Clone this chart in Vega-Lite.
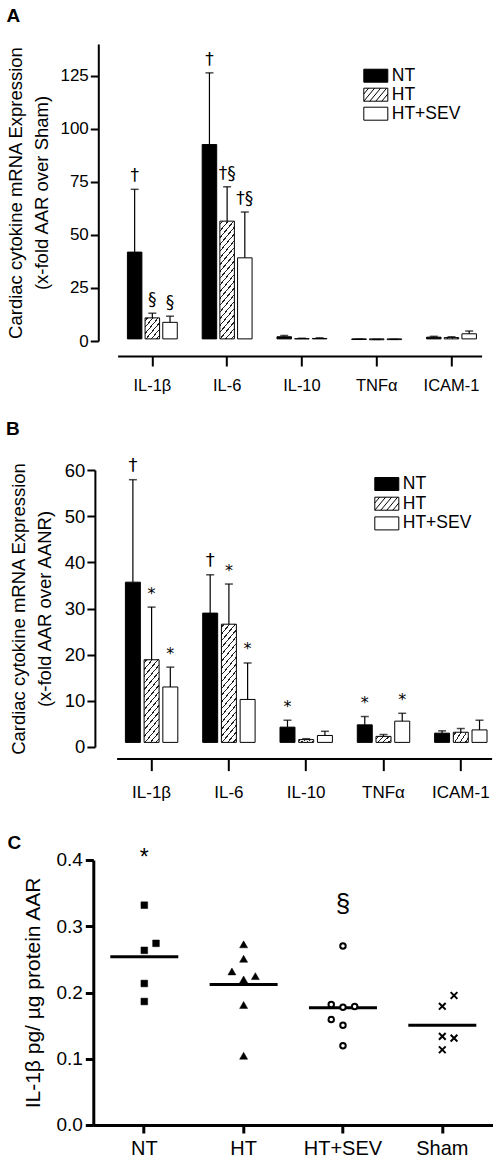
{
"$schema": "https://vega.github.io/schema/vega-lite/v6.json",
"padding": {"left": 5.3, "top": 7, "right": 0, "bottom": 0},
"datasets": {
"barsA": [
{"cytokine":"IL-1β","group":"NT","mean":41.9,"upper":71.5,"sig":"†"},
{"cytokine":"IL-1β","group":"HT","mean":10.9,"upper":13.1,"sig":"§"},
{"cytokine":"IL-1β","group":"HT+SEV","mean":8.8,"upper":11.7,"sig":"§"},
{"cytokine":"IL-6","group":"NT","mean":92.6,"upper":126.4,"sig":"†"},
{"cytokine":"IL-6","group":"HT","mean":56.5,"upper":72.7,"sig":"†§"},
{"cytokine":"IL-6","group":"HT+SEV","mean":39.2,"upper":60.8,"sig":"†§"},
{"cytokine":"IL-10","group":"NT","mean":2.0,"upper":2.6,"sig":""},
{"cytokine":"IL-10","group":"HT","mean":1.1,"upper":1.3,"sig":""},
{"cytokine":"IL-10","group":"HT+SEV","mean":1.2,"upper":1.5,"sig":""},
{"cytokine":"TNFα","group":"NT","mean":0.7,"upper":0.85,"sig":""},
{"cytokine":"TNFα","group":"HT","mean":0.6,"upper":0.75,"sig":""},
{"cytokine":"TNFα","group":"HT+SEV","mean":0.65,"upper":0.8,"sig":""},
{"cytokine":"ICAM-1","group":"NT","mean":1.8,"upper":2.2,"sig":""},
{"cytokine":"ICAM-1","group":"HT","mean":1.6,"upper":2.0,"sig":""},
{"cytokine":"ICAM-1","group":"HT+SEV","mean":3.4,"upper":4.7,"sig":""}
],
"barsB": [
{"cytokine":"IL-1β","group":"NT","mean":35.7,"upper":57.9,"sig":"†"},
{"cytokine":"IL-1β","group":"HT","mean":18.9,"upper":30.3,"sig":"*"},
{"cytokine":"IL-1β","group":"HT+SEV","mean":13.0,"upper":17.3,"sig":"*"},
{"cytokine":"IL-6","group":"NT","mean":29.0,"upper":37.3,"sig":"†"},
{"cytokine":"IL-6","group":"HT","mean":26.6,"upper":35.3,"sig":"*"},
{"cytokine":"IL-6","group":"HT+SEV","mean":10.3,"upper":18.2,"sig":"*"},
{"cytokine":"IL-10","group":"NT","mean":4.3,"upper":5.8,"sig":"*"},
{"cytokine":"IL-10","group":"HT","mean":1.6,"upper":1.8,"sig":""},
{"cytokine":"IL-10","group":"HT+SEV","mean":2.5,"upper":3.4,"sig":""},
{"cytokine":"TNFα","group":"NT","mean":4.8,"upper":6.6,"sig":"*"},
{"cytokine":"TNFα","group":"HT","mean":2.3,"upper":2.7,"sig":""},
{"cytokine":"TNFα","group":"HT+SEV","mean":5.6,"upper":7.3,"sig":"*"},
{"cytokine":"ICAM-1","group":"NT","mean":3.0,"upper":3.5,"sig":""},
{"cytokine":"ICAM-1","group":"HT","mean":3.2,"upper":4.0,"sig":""},
{"cytokine":"ICAM-1","group":"HT+SEV","mean":3.7,"upper":5.8,"sig":""}
],
"pointsC": [
{"group":"NT","value":0.3318,"col":0},
{"group":"NT","value":0.2742,"col":1},
{"group":"NT","value":0.2636,"col":0},
{"group":"NT","value":0.2136,"col":0},
{"group":"NT","value":0.1864,"col":0},
{"group":"HT","value":0.2727,"col":0},
{"group":"HT","value":0.2509,"col":0},
{"group":"HT","value":0.2318,"col":-1},
{"group":"HT","value":0.2247,"col":1},
{"group":"HT","value":0.2197,"col":0},
{"group":"HT","value":0.1812,"col":0},
{"group":"HT","value":0.1045,"col":0},
{"group":"HT+SEV","value":0.2702,"col":0},
{"group":"HT+SEV","value":0.1818,"col":-1},
{"group":"HT+SEV","value":0.1777,"col":0},
{"group":"HT+SEV","value":0.1788,"col":1},
{"group":"HT+SEV","value":0.1591,"col":-1},
{"group":"HT+SEV","value":0.1505,"col":0},
{"group":"HT+SEV","value":0.1197,"col":0},
{"group":"Sham","value":0.1955,"col":1},
{"group":"Sham","value":0.1792,"col":0},
{"group":"Sham","value":0.1338,"col":0},
{"group":"Sham","value":0.1312,"col":1},
{"group":"Sham","value":0.1136,"col":0}
],
"annC": [
{"group":"NT","label":"*","at":0.4024},
{"group":"HT+SEV","label":"§","at":0.3333}
]
},
"concat": [
{
"width": 388.3, "height": 297,
"title": {"text": "A", "offset": 18},
"data": {"name": "barsA"},
"encoding": {
"x": {"field":"cytokine","type":"nominal","sort":["IL-1β","IL-6","IL-10","TNFα","ICAM-1"],
"scale":{"range":[24.3,388.3],"paddingInner":0.333,"paddingOuter":0.1,"align":0.655},
"axis":{"title":null,"offset":15,"labelAngle":0,"labelFontSize":16.5,"labelPadding":11,"tickSize":10,"domainWidth":2,"tickWidth":2}},
"xOffset": {"field":"group","type":"nominal","sort":["NT","HT","HT+SEV"],"scale":{"paddingInner":0.18,"paddingOuter":0}}
},
"layer": [
{"mark":{"type":"bar","stroke":"#000","strokeWidth":1},
"encoding":{
"y":{"field":"mean","type":"quantitative","scale":{"domain":[0,140],"nice":false},
"axis":{"title":["Cardiac cytokine mRNA Expression","(x-fold AAR over Sham)"],"values":[0,25,50,75,100,125],"offset":-5,"tickSize":8,"tickWidth":2,"domainWidth":2,"labelFontSize":17,"labelPadding":2,"titleFontSize":18.5,"titlePadding":8,"titleLineHeight":26.5}},
"y2":{"datum":1},
"fill":{"condition":[
{"test":"datum.group === 'HT' && datum.cytokine === 'IL-6'","value":{"gradient":"linear","x1":0,"y1":0,"x2":0.1661,"y2":1.1233,"stops":[
{"offset":0.0175,"color":"#fff"},{"offset":0.0175,"color":"#222"},{"offset":0.0285,"color":"#222"},{"offset":0.0285,"color":"#fff"},
{"offset":0.0675,"color":"#fff"},{"offset":0.0675,"color":"#222"},{"offset":0.0785,"color":"#222"},{"offset":0.0785,"color":"#fff"},
{"offset":0.1175,"color":"#fff"},{"offset":0.1175,"color":"#222"},{"offset":0.1285,"color":"#222"},{"offset":0.1285,"color":"#fff"},
{"offset":0.1675,"color":"#fff"},{"offset":0.1675,"color":"#222"},{"offset":0.1785,"color":"#222"},{"offset":0.1785,"color":"#fff"},
{"offset":0.2175,"color":"#fff"},{"offset":0.2175,"color":"#222"},{"offset":0.2285,"color":"#222"},{"offset":0.2285,"color":"#fff"},
{"offset":0.2675,"color":"#fff"},{"offset":0.2675,"color":"#222"},{"offset":0.2785,"color":"#222"},{"offset":0.2785,"color":"#fff"},
{"offset":0.3175,"color":"#fff"},{"offset":0.3175,"color":"#222"},{"offset":0.3285,"color":"#222"},{"offset":0.3285,"color":"#fff"},
{"offset":0.3675,"color":"#fff"},{"offset":0.3675,"color":"#222"},{"offset":0.3785,"color":"#222"},{"offset":0.3785,"color":"#fff"},
{"offset":0.4175,"color":"#fff"},{"offset":0.4175,"color":"#222"},{"offset":0.4285,"color":"#222"},{"offset":0.4285,"color":"#fff"},
{"offset":0.4675,"color":"#fff"},{"offset":0.4675,"color":"#222"},{"offset":0.4785,"color":"#222"},{"offset":0.4785,"color":"#fff"},
{"offset":0.5175,"color":"#fff"},{"offset":0.5175,"color":"#222"},{"offset":0.5285,"color":"#222"},{"offset":0.5285,"color":"#fff"},
{"offset":0.5675,"color":"#fff"},{"offset":0.5675,"color":"#222"},{"offset":0.5785,"color":"#222"},{"offset":0.5785,"color":"#fff"},
{"offset":0.6175,"color":"#fff"},{"offset":0.6175,"color":"#222"},{"offset":0.6285,"color":"#222"},{"offset":0.6285,"color":"#fff"},
{"offset":0.6675,"color":"#fff"},{"offset":0.6675,"color":"#222"},{"offset":0.6785,"color":"#222"},{"offset":0.6785,"color":"#fff"},
{"offset":0.7175,"color":"#fff"},{"offset":0.7175,"color":"#222"},{"offset":0.7285,"color":"#222"},{"offset":0.7285,"color":"#fff"},
{"offset":0.7675,"color":"#fff"},{"offset":0.7675,"color":"#222"},{"offset":0.7785,"color":"#222"},{"offset":0.7785,"color":"#fff"},
{"offset":0.8175,"color":"#fff"},{"offset":0.8175,"color":"#222"},{"offset":0.8285,"color":"#222"},{"offset":0.8285,"color":"#fff"},
{"offset":0.8675,"color":"#fff"},{"offset":0.8675,"color":"#222"},{"offset":0.8785,"color":"#222"},{"offset":0.8785,"color":"#fff"},
{"offset":0.9175,"color":"#fff"},{"offset":0.9175,"color":"#222"},{"offset":0.9285,"color":"#222"},{"offset":0.9285,"color":"#fff"},
{"offset":0.9675,"color":"#fff"},{"offset":0.9675,"color":"#222"},{"offset":0.9785,"color":"#222"},{"offset":0.9785,"color":"#fff"}]}},
{"test":"datum.group === 'HT' && datum.cytokine === 'IL-1β'","value":{"gradient":"linear","x1":0,"y1":0,"x2":0.8983,"y2":1.0842,"stops":[
{"offset":0.0583,"color":"#fff"},{"offset":0.0583,"color":"#222"},{"offset":0.095,"color":"#222"},{"offset":0.095,"color":"#fff"},
{"offset":0.225,"color":"#fff"},{"offset":0.225,"color":"#222"},{"offset":0.2617,"color":"#222"},{"offset":0.2617,"color":"#fff"},
{"offset":0.3917,"color":"#fff"},{"offset":0.3917,"color":"#222"},{"offset":0.4283,"color":"#222"},{"offset":0.4283,"color":"#fff"},
{"offset":0.5583,"color":"#fff"},{"offset":0.5583,"color":"#222"},{"offset":0.595,"color":"#222"},{"offset":0.595,"color":"#fff"},
{"offset":0.725,"color":"#fff"},{"offset":0.725,"color":"#222"},{"offset":0.7617,"color":"#222"},{"offset":0.7617,"color":"#fff"},
{"offset":0.8917,"color":"#fff"},{"offset":0.8917,"color":"#222"},{"offset":0.9283,"color":"#222"},{"offset":0.9283,"color":"#fff"}]}},
{"test":"datum.group === 'HT'","value":{"gradient":"linear","x1":0,"y1":0,"x2":1.2062,"y2":0.5361,"stops":[
{"offset":0.0875,"color":"#fff"},{"offset":0.0875,"color":"#222"},{"offset":0.1425,"color":"#222"},{"offset":0.1425,"color":"#fff"},
{"offset":0.3375,"color":"#fff"},{"offset":0.3375,"color":"#222"},{"offset":0.3925,"color":"#222"},{"offset":0.3925,"color":"#fff"},
{"offset":0.5875,"color":"#fff"},{"offset":0.5875,"color":"#222"},{"offset":0.6425,"color":"#222"},{"offset":0.6425,"color":"#fff"},
{"offset":0.8375,"color":"#fff"},{"offset":0.8375,"color":"#222"},{"offset":0.8925,"color":"#222"},{"offset":0.8925,"color":"#fff"}]}}
],
"field":"group","type":"nominal","scale":{"domain":["NT","HT","HT+SEV"],"range":["#000000","#ffffff","#ffffff"]},
"legend":{"title":null,"orient":"none","legendX":272,"legendY":21.2,"symbolType":"M-1.2,-0.65H1.2V0.65H-1.2Z","symbolSize":400,"symbolStrokeColor":"#000","symbolStrokeWidth":1,"symbolOpacity":1,"labelFontSize":17.5,"labelOffset":5.5,"rowPadding":0,"padding":0,"labelColor":"#000",
"encode":{"symbols":{"update":{"shape":[{"test":"datum.value === 'HT'","value":"M-1.2,-0.65H1.2V0.65H-1.2Z M-1.2,-0.07L-0.717,-0.65 M-1.2,0.65L-0.117,-0.65 M-0.6,0.65L0.483,-0.65 M0,0.65L1.083,-0.65 M0.6,0.65L1.2,-0.07"},{"value":"M-1.2,-0.65H1.2V0.65H-1.2Z"}]}}}}}
}},
{"mark":{"type":"rule","color":"#000","strokeWidth":1.2},
"encoding":{"y":{"field":"mean","type":"quantitative","scale":{"domain":[0,140],"nice":false}},"y2":{"field":"upper"}}},
{"mark":{"type":"tick","color":"#000","size":8,"thickness":1.5},
"encoding":{"y":{"field":"upper","type":"quantitative","scale":{"domain":[0,140],"nice":false}}}},
{"transform":[{"filter":"datum.sig !== ''"}],
"mark":{"type":"text","fontSize":17,"baseline":"alphabetic","dy":-8,"color":"#000","font":"DejaVu Sans"},
"encoding":{"y":{"field":"upper","type":"quantitative","scale":{"domain":[0,140],"nice":false}},"text":{"field":"sig"}}}
]
},
{
"width": 398.3, "height": 277,
"title": {"text": "B", "offset": 18.3, "dx": -3.2},
"data": {"name": "barsB"},
"encoding": {
"x": {"field":"cytokine","type":"nominal","sort":["IL-1β","IL-6","IL-10","TNFα","ICAM-1"],
"scale":{"range":[23.3,398.3],"paddingInner":0.322,"paddingOuter":0.0866,"align":0.657},
"axis":{"title":" ","titleFontSize":4,"titlePadding":2.6,"offset":11.6,"labelAngle":0,"labelFontSize":17,"labelPadding":14,"tickSize":12,"domainWidth":2,"tickWidth":2}},
"xOffset": {"field":"group","type":"nominal","sort":["NT","HT","HT+SEV"],"scale":{"paddingInner":0.2,"paddingOuter":0}}
},
"layer": [
{"mark":{"type":"bar","stroke":"#000","strokeWidth":1},
"encoding":{
"y":{"field":"mean","type":"quantitative","scale":{"domain":[0,60],"nice":false},
"axis":{"title":["Cardiac cytokine mRNA Expression","(x-fold AAR over AANR)"],"values":[0,10,20,30,40,50,60],"offset":-1.6,"tickSize":8,"tickWidth":2,"domainWidth":2,"labelFontSize":18.5,"labelPadding":2,"titleFontSize":18.5,"titlePadding":9.5,"titleLineHeight":26.5}},
"y2":{"datum":1},
"fill":{"condition":[
{"test":"datum.group === 'HT' && datum.cytokine === 'IL-6'","value":{"gradient":"linear","x1":0,"y1":0,"x2":0.1713,"y2":1.1261,"stops":[
{"offset":0.0175,"color":"#fff"},{"offset":0.0175,"color":"#222"},{"offset":0.0285,"color":"#222"},{"offset":0.0285,"color":"#fff"},
{"offset":0.0675,"color":"#fff"},{"offset":0.0675,"color":"#222"},{"offset":0.0785,"color":"#222"},{"offset":0.0785,"color":"#fff"},
{"offset":0.1175,"color":"#fff"},{"offset":0.1175,"color":"#222"},{"offset":0.1285,"color":"#222"},{"offset":0.1285,"color":"#fff"},
{"offset":0.1675,"color":"#fff"},{"offset":0.1675,"color":"#222"},{"offset":0.1785,"color":"#222"},{"offset":0.1785,"color":"#fff"},
{"offset":0.2175,"color":"#fff"},{"offset":0.2175,"color":"#222"},{"offset":0.2285,"color":"#222"},{"offset":0.2285,"color":"#fff"},
{"offset":0.2675,"color":"#fff"},{"offset":0.2675,"color":"#222"},{"offset":0.2785,"color":"#222"},{"offset":0.2785,"color":"#fff"},
{"offset":0.3175,"color":"#fff"},{"offset":0.3175,"color":"#222"},{"offset":0.3285,"color":"#222"},{"offset":0.3285,"color":"#fff"},
{"offset":0.3675,"color":"#fff"},{"offset":0.3675,"color":"#222"},{"offset":0.3785,"color":"#222"},{"offset":0.3785,"color":"#fff"},
{"offset":0.4175,"color":"#fff"},{"offset":0.4175,"color":"#222"},{"offset":0.4285,"color":"#222"},{"offset":0.4285,"color":"#fff"},
{"offset":0.4675,"color":"#fff"},{"offset":0.4675,"color":"#222"},{"offset":0.4785,"color":"#222"},{"offset":0.4785,"color":"#fff"},
{"offset":0.5175,"color":"#fff"},{"offset":0.5175,"color":"#222"},{"offset":0.5285,"color":"#222"},{"offset":0.5285,"color":"#fff"},
{"offset":0.5675,"color":"#fff"},{"offset":0.5675,"color":"#222"},{"offset":0.5785,"color":"#222"},{"offset":0.5785,"color":"#fff"},
{"offset":0.6175,"color":"#fff"},{"offset":0.6175,"color":"#222"},{"offset":0.6285,"color":"#222"},{"offset":0.6285,"color":"#fff"},
{"offset":0.6675,"color":"#fff"},{"offset":0.6675,"color":"#222"},{"offset":0.6785,"color":"#222"},{"offset":0.6785,"color":"#fff"},
{"offset":0.7175,"color":"#fff"},{"offset":0.7175,"color":"#222"},{"offset":0.7285,"color":"#222"},{"offset":0.7285,"color":"#fff"},
{"offset":0.7675,"color":"#fff"},{"offset":0.7675,"color":"#222"},{"offset":0.7785,"color":"#222"},{"offset":0.7785,"color":"#fff"},
{"offset":0.8175,"color":"#fff"},{"offset":0.8175,"color":"#222"},{"offset":0.8285,"color":"#222"},{"offset":0.8285,"color":"#fff"},
{"offset":0.8675,"color":"#fff"},{"offset":0.8675,"color":"#222"},{"offset":0.8785,"color":"#222"},{"offset":0.8785,"color":"#fff"},
{"offset":0.9175,"color":"#fff"},{"offset":0.9175,"color":"#222"},{"offset":0.9285,"color":"#222"},{"offset":0.9285,"color":"#fff"},
{"offset":0.9675,"color":"#fff"},{"offset":0.9675,"color":"#222"},{"offset":0.9785,"color":"#222"},{"offset":0.9785,"color":"#fff"}]}},
{"test":"datum.group === 'HT' && datum.cytokine === 'IL-1β'","value":{"gradient":"linear","x1":0,"y1":0,"x2":0.2527,"y2":1.1624,"stops":[
{"offset":0.0233,"color":"#fff"},{"offset":0.0233,"color":"#222"},{"offset":0.038,"color":"#222"},{"offset":0.038,"color":"#fff"},
{"offset":0.09,"color":"#fff"},{"offset":0.09,"color":"#222"},{"offset":0.1047,"color":"#222"},{"offset":0.1047,"color":"#fff"},
{"offset":0.1567,"color":"#fff"},{"offset":0.1567,"color":"#222"},{"offset":0.1713,"color":"#222"},{"offset":0.1713,"color":"#fff"},
{"offset":0.2233,"color":"#fff"},{"offset":0.2233,"color":"#222"},{"offset":0.238,"color":"#222"},{"offset":0.238,"color":"#fff"},
{"offset":0.29,"color":"#fff"},{"offset":0.29,"color":"#222"},{"offset":0.3047,"color":"#222"},{"offset":0.3047,"color":"#fff"},
{"offset":0.3567,"color":"#fff"},{"offset":0.3567,"color":"#222"},{"offset":0.3713,"color":"#222"},{"offset":0.3713,"color":"#fff"},
{"offset":0.4233,"color":"#fff"},{"offset":0.4233,"color":"#222"},{"offset":0.438,"color":"#222"},{"offset":0.438,"color":"#fff"},
{"offset":0.49,"color":"#fff"},{"offset":0.49,"color":"#222"},{"offset":0.5047,"color":"#222"},{"offset":0.5047,"color":"#fff"},
{"offset":0.5567,"color":"#fff"},{"offset":0.5567,"color":"#222"},{"offset":0.5713,"color":"#222"},{"offset":0.5713,"color":"#fff"},
{"offset":0.6233,"color":"#fff"},{"offset":0.6233,"color":"#222"},{"offset":0.638,"color":"#222"},{"offset":0.638,"color":"#fff"},
{"offset":0.69,"color":"#fff"},{"offset":0.69,"color":"#222"},{"offset":0.7047,"color":"#222"},{"offset":0.7047,"color":"#fff"},
{"offset":0.7567,"color":"#fff"},{"offset":0.7567,"color":"#222"},{"offset":0.7713,"color":"#222"},{"offset":0.7713,"color":"#fff"},
{"offset":0.8233,"color":"#fff"},{"offset":0.8233,"color":"#222"},{"offset":0.838,"color":"#222"},{"offset":0.838,"color":"#fff"},
{"offset":0.89,"color":"#fff"},{"offset":0.89,"color":"#222"},{"offset":0.9047,"color":"#222"},{"offset":0.9047,"color":"#fff"},
{"offset":0.9567,"color":"#fff"},{"offset":0.9567,"color":"#222"},{"offset":0.9713,"color":"#222"},{"offset":0.9713,"color":"#fff"}]}},
{"test":"datum.group === 'HT'","value":{"gradient":"linear","x1":0,"y1":0,"x2":1.2062,"y2":0.5361,"stops":[
{"offset":0.0875,"color":"#fff"},{"offset":0.0875,"color":"#222"},{"offset":0.1425,"color":"#222"},{"offset":0.1425,"color":"#fff"},
{"offset":0.3375,"color":"#fff"},{"offset":0.3375,"color":"#222"},{"offset":0.3925,"color":"#222"},{"offset":0.3925,"color":"#fff"},
{"offset":0.5875,"color":"#fff"},{"offset":0.5875,"color":"#222"},{"offset":0.6425,"color":"#222"},{"offset":0.6425,"color":"#fff"},
{"offset":0.8375,"color":"#fff"},{"offset":0.8375,"color":"#222"},{"offset":0.8925,"color":"#222"},{"offset":0.8925,"color":"#fff"}]}}
],
"field":"group","type":"nominal","scale":{"domain":["NT","HT","HT+SEV"],"range":["#000000","#ffffff","#ffffff"]},
"legend":{"title":null,"orient":"none","legendX":283,"legendY":3.5,"symbolType":"M-1.2,-0.65H1.2V0.65H-1.2Z","symbolSize":400,"symbolStrokeColor":"#000","symbolStrokeWidth":1,"symbolOpacity":1,"labelFontSize":17.5,"labelOffset":5.5,"rowPadding":0.7,"padding":0,"labelColor":"#000",
"encode":{"symbols":{"update":{"shape":[{"test":"datum.value === 'HT'","value":"M-1.2,-0.65H1.2V0.65H-1.2Z M-1.2,-0.07L-0.717,-0.65 M-1.2,0.65L-0.117,-0.65 M-0.6,0.65L0.483,-0.65 M0,0.65L1.083,-0.65 M0.6,0.65L1.2,-0.07"},{"value":"M-1.2,-0.65H1.2V0.65H-1.2Z"}]}}}}}
}},
{"mark":{"type":"rule","color":"#000","strokeWidth":1.2},
"encoding":{"y":{"field":"mean","type":"quantitative","scale":{"domain":[0,60],"nice":false}},"y2":{"field":"upper"}}},
{"mark":{"type":"tick","color":"#000","size":8,"thickness":1.5},
"encoding":{"y":{"field":"upper","type":"quantitative","scale":{"domain":[0,60],"nice":false}}}},
{"transform":[{"filter":"datum.sig !== ''"}],
"mark":{"type":"text","baseline":"alphabetic","dy":-8.5,"color":"#000","font":"DejaVu Sans"},
"encoding":{"y":{"field":"upper","type":"quantitative","scale":{"domain":[0,60],"nice":false}},"text":{"field":"sig"},
"size":{"condition":{"test":"datum.sig === '*'","value":16},"value":18}}}
]
},
{
"width": 400, "height": 265,
"title": {"text": "C", "offset": -5.3, "dx": -15.3},
"encoding": {
"x": {"field":"group","type":"nominal","sort":["NT","HT","HT+SEV","Sham"],
"scale":{"paddingInner":0,"paddingOuter":0.0134},
"axis":{"title":null,"labelAngle":0,"labelFontSize":20,"labelPadding":6,"tickSize":8,"domainWidth":3,"tickWidth":3}}
},
"layer": [
{"data":{"name":"pointsC"},
"mark":{"type":"tick","size":68,"thickness":3,"color":"#000"},
"encoding":{"y":{"aggregate":"mean","field":"value","type":"quantitative","scale":{"domain":[0,0.4],"nice":false},
"axis":{"title":"IL-1β pg/ µg protein AAR","values":[0,0.1,0.2,0.3,0.4],"format":".1f","tickSize":8,"tickWidth":3,"domainWidth":3,"labelFontSize":19,"labelPadding":3,"titleFontSize":21,"titlePadding":12}}}},
{"data":{"name":"pointsC"},
"mark":{"type":"point","opacity":1,"stroke":"#000"},
"encoding":{
"xOffset":{"field":"col","type":"quantitative","scale":{"domain":[-4.24,4.24]}},
"y":{"field":"value","type":"quantitative","scale":{"domain":[0,0.4],"nice":false}},
"shape":{"field":"group","type":"nominal","scale":{"domain":["NT","HT","HT+SEV","Sham"],"range":["square","triangle-up","circle","M-1,-1L1,1M-1,1L1,-1"]},"legend":null},
"fill":{"field":"group","type":"nominal","scale":{"domain":["NT","HT","HT+SEV","Sham"],"range":["#000000","#000000","#ffffff","#ffffff"]},"legend":null},
"strokeWidth":{"condition":{"test":"datum.group === 'HT+SEV' || datum.group === 'Sham'","value":2},"value":0.5},
"size":{"condition":[{"test":"datum.group === 'NT'","value":45},{"test":"datum.group === 'HT'","value":64},{"test":"datum.group === 'HT+SEV'","value":30}],"value":45}
}},
{"data":{"name":"annC"},
"mark":{"type":"text","baseline":"middle","color":"#000"},
"encoding":{"y":{"field":"at","type":"quantitative","scale":{"domain":[0,0.4],"nice":false}},"text":{"field":"label"},
"size":{"condition":{"test":"datum.label === '§'","value":26},"value":23}}}
]
}
],
"columns": 1,
"spacing": 25,
"resolve": {"scale": {"fill": "independent", "shape": "independent"}, "legend": {"fill": "independent"}},
"config": {
"font": "Liberation Sans",
"view": {"stroke": null},
"axis": {"domainColor":"#000","tickColor":"#000","labelColor":"#000","titleColor":"#000","grid":false,"titleFontWeight":"normal","labelFont":"Liberation Sans","titleFont":"Liberation Sans"},
"title": {"anchor":"start","frame":"bounds","fontSize":19,"fontWeight":"bold","color":"#000","font":"Liberation Sans"},
"legend": {"labelFont":"Liberation Sans"}
}
}
